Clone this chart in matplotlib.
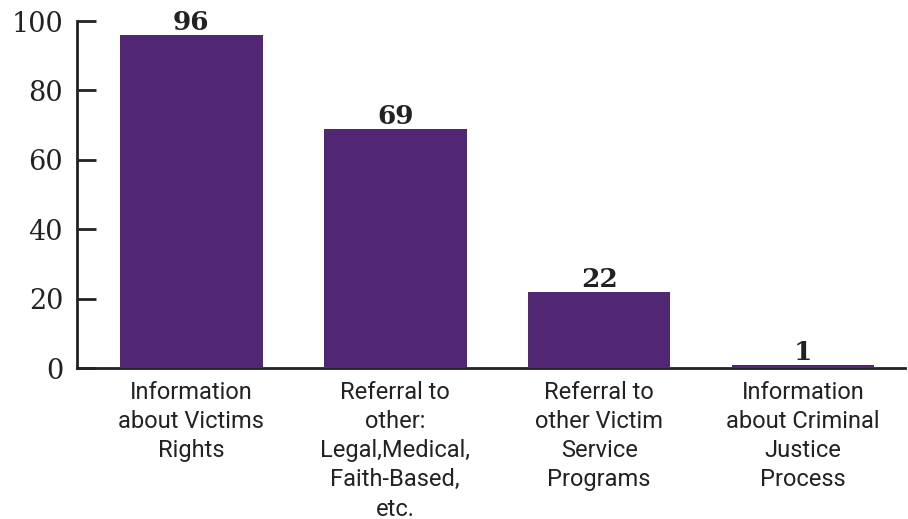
import matplotlib
matplotlib.use('Agg')
import matplotlib.pyplot as plt

categories = [
    'Information\nabout Victims\nRights',
    'Referral to\nother:\nLegal,Medical,\nFaith-Based,\netc.',
    'Referral to\nother Victim\nService\nPrograms',
    'Information\nabout Criminal\nJustice\nProcess',
]
counts = [96, 69, 22, 1]
y_ticks = [0, 20, 40, 60, 80, 100]

bar_color = '#512773'
ink = '#222222'

fig = plt.figure(figsize=(9.08, 5.19), dpi=100)
ax = fig.add_axes([0.0848, 0.2909, 0.9119, 0.6686])

x = range(len(categories))
bars = ax.bar(x, counts, width=0.7, color=bar_color, zorder=3)

for rect, v in zip(bars, counts):
    ax.text(rect.get_x() + rect.get_width() / 2, v, str(v),
            ha='center', va='bottom', fontsize=19, fontweight='bold',
            family='DejaVu Serif', color=ink)

ax.set_xlim(-0.56, 3.5)
ax.set_ylim(0, 100)
ax.set_yticks(y_ticks)
ax.set_yticklabels([str(t) for t in y_ticks], family='DejaVu Serif',
                   fontsize=19.5, color=ink)
ax.tick_params(axis='y', direction='in', length=14, width=2, color=ink, pad=10)

ax.set_xticks(list(x))
ax.set_xticklabels(categories, family='Roboto', fontsize=17, color=ink,
                   linespacing=1.35)
ax.tick_params(axis='x', length=0, pad=9)

for side in ['top', 'right']:
    ax.spines[side].set_visible(False)
for side in ['left', 'bottom']:
    ax.spines[side].set_color(ink)
    ax.spines[side].set_linewidth(2)

fig.savefig('out.png', dpi=100)
